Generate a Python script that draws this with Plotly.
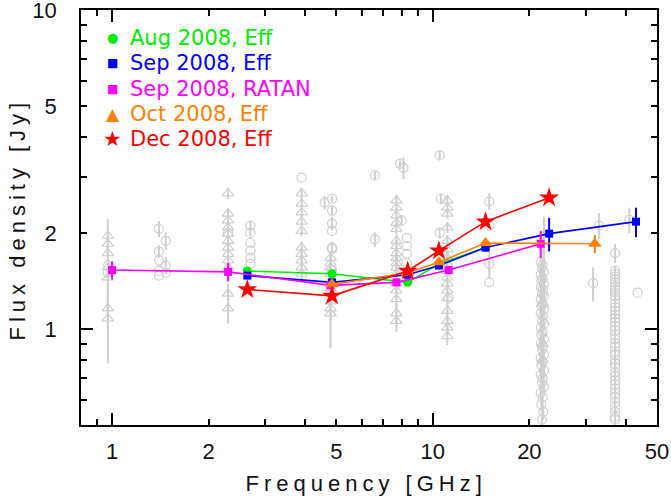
import plotly.graph_objects as go
import math

# ---------------- data ----------------
# Background (archival) measurements, open circles
circ_freq = [0.97, 0.97,
             1.4, 1.4, 1.4, 1.4, 1.4, 1.47, 1.47, 1.47,
             2.3,
             2.7, 2.7, 2.7, 2.7, 2.7, 2.7,
             3.9, 4.6,
             4.85, 4.85, 4.85, 4.85, 4.85, 4.85, 4.85,
             6.6, 6.6,
             7.9, 8.1, 8.0, 8.3, 8.3, 8.3, 8.3,
             10.5, 10.6, 10.5, 11.2,
             15.0, 15.0, 15.0, 15.0,
             31.6, 33.0, 41.0, 43.5]
circ_flux = [1.58, 1.50,
             2.06, 1.75, 1.64, 1.52, 1.47, 1.89, 1.58, 1.50,
             2.00,
             2.11, 2.00, 1.86, 1.76, 1.67, 1.60,
             2.98, 2.49,
             2.56, 2.35, 2.14, 2.03, 1.78, 1.80, 1.53,
             3.03, 1.91,
             3.30, 3.20, 2.19, 1.93, 1.82, 1.72, 1.61,
             3.50, 2.56, 2.00, 1.25,
             2.51, 2.11, 1.60, 1.40,
             1.39, 2.11, 2.20, 1.30]
circ_err = [0.05, 0.05,
            0.12, 0.08, 0.0, 0.0, 0.0, 0.12, 0.10, 0.0,
            0.0,
            0.06, 0.05, 0.0, 0.0, 0.0, 0.0,
            0.0, 0.12,
            0.06, 0.08, 0.10, 0.0, 0.0, 0.08, 0.0,
            0.08, 0.10,
            0.08, 0.25, 0.06, 0.0, 0.0, 0.0, 0.0,
            0.12, 0.10, 0.08, 0.0,
            0.15, 0.0, 0.15, 0.0,
            0.17, 0.20, 0.20, 0.0]

# dense monitoring columns at 22 and 37 GHz (open circles)
k22_flux = [1.80, 1.62, 1.59, 1.55, 1.51, 1.48, 1.44, 1.42, 1.38, 1.35, 1.33,
            1.29, 1.27, 1.24, 1.20, 1.18, 1.15, 1.12, 1.10, 1.06, 1.04, 1.01,
            0.98, 0.96, 0.93, 0.90, 0.88, 0.86, 0.83, 0.81, 0.79, 0.77, 0.74,
            0.72, 0.70, 0.68, 0.66, 0.63, 0.61, 0.58, 0.55, 0.52]
k22_freq = [22.2, 21.7, 22.0, 21.9, 22.2, 21.7, 22.0, 21.8, 22.2, 21.7, 22.0,
            21.9, 22.2, 21.7, 22.0, 21.8, 22.2, 21.7, 22.0, 21.9, 22.2, 21.7,
            22.0, 21.8, 22.2, 21.7, 22.0, 21.9, 22.2, 21.7, 22.0, 21.8, 22.2,
            21.7, 22.0, 21.9, 22.2, 21.7, 22.0, 21.8, 22.1, 21.9]
k22_err = [0.45, 0.10, 0.08, 0.08, 0.07, 0.07, 0.07, 0.06, 0.06, 0.06, 0.06,
           0.06, 0.05, 0.05, 0.05, 0.05, 0.05, 0.05, 0.05, 0.05, 0.04, 0.04,
           0.04, 0.04, 0.04, 0.04, 0.04, 0.04, 0.04, 0.04, 0.04, 0.04, 0.04,
           0.04, 0.04, 0.03, 0.03, 0.03, 0.03, 0.03, 0.03, 0.03]

q37_flux = [1.73, 1.52, 1.49, 1.46, 1.43, 1.40, 1.36, 1.33, 1.30, 1.27, 1.24,
            1.20, 1.17, 1.14, 1.11, 1.08, 1.05, 1.02, 0.99, 0.96, 0.93, 0.90,
            0.88, 0.85, 0.83, 0.80, 0.78, 0.76, 0.73, 0.71, 0.69, 0.67, 0.65,
            0.63, 0.61, 0.59, 0.57, 0.55, 0.53, 0.52]
q37_freq = [37.0] * len(q37_flux)
q37_err = [0.12, 0.05, 0.04, 0.04, 0.04, 0.04, 0.04, 0.04, 0.04, 0.04, 0.04,
           0.04, 0.03, 0.03, 0.03, 0.03, 0.03, 0.03, 0.03, 0.03, 0.03, 0.03,
           0.03, 0.03, 0.03, 0.03, 0.02, 0.02, 0.02, 0.02, 0.02, 0.02, 0.02,
           0.02, 0.02, 0.02, 0.02, 0.02, 0.02, 0.02]

# Background measurements, open triangles
tri_freq = [0.97] * 7 + [2.3] * 12 + [3.9] * 10 + [4.8] * 9 + [7.7] * 17 + [11.1] * 17 + [22.0] * 3
tri_flux = [1.96, 1.85, 1.73, 1.56, 1.45, 1.16, 1.08,
            2.66, 2.30, 2.19, 2.08, 1.99, 1.89, 1.80, 1.72, 1.64, 1.56, 1.29, 1.16,
            2.66, 2.47, 2.32, 2.17, 2.03, 1.80, 1.72, 1.64, 1.56, 1.49,
            1.67, 1.61, 1.56, 1.49, 1.42, 1.34, 1.22, 1.16, 1.12,
            2.53, 2.40, 2.27, 2.15, 2.06, 1.89, 1.82, 1.73, 1.67, 1.61, 1.56, 1.49,
            1.39, 1.32, 1.24, 1.12, 1.06,
            2.53, 2.40, 2.30, 2.08, 1.89, 1.78, 1.67, 1.60, 1.52, 1.45, 1.39, 1.32,
            1.25, 1.14, 1.06, 1.01, 0.95,
            1.20, 0.90, 0.80]
tri_err = [0.25, 0.10, 0.10, 0.35, 0.10, 0.15, 0.30,
           0.10, 0.08, 0.08, 0.08, 0.08, 0.08, 0.08, 0.08, 0.08, 0.08, 0.10, 0.12,
           0.10, 0.10, 0.08, 0.08, 0.08, 0.08, 0.08, 0.08, 0.08, 0.08,
           0.08, 0.08, 0.08, 0.08, 0.08, 0.08, 0.08, 0.10, 0.25,
           0.10, 0.10, 0.08, 0.08, 0.08, 0.08, 0.08, 0.08, 0.08, 0.08, 0.08, 0.08,
           0.08, 0.08, 0.08, 0.08, 0.08,
           0.10, 0.10, 0.08, 0.08, 0.08, 0.08, 0.08, 0.08, 0.08, 0.08, 0.08, 0.08,
           0.08, 0.08, 0.08, 0.06, 0.06,
           0.05, 0.04, 0.04]

# 2008 campaign spectra
aug_freq = [2.64, 4.85, 8.35, 10.45, 14.6]
aug_flux = [1.52, 1.49, 1.40, 1.60, 1.80]

sepE_freq = [2.64, 4.85, 8.35, 10.45, 14.6, 23.05, 43.0]
sepE_flux = [1.47, 1.40, 1.48, 1.58, 1.80, 1.99, 2.17]
sepE_err = [0.02, 0.02, 0.02, 0.02, 0.03, 0.24, 0.23]

sepR_freq = [1.0, 2.3, 4.8, 7.7, 11.2, 21.7]
sepR_flux = [1.53, 1.51, 1.37, 1.40, 1.53, 1.85]
sepR_err = [0.10, 0.10, 0.02, 0.02, 0.02, 0.18]

oct_freq = [4.85, 8.35, 10.45, 14.6, 32.0]
oct_flux = [1.38, 1.50, 1.62, 1.86, 1.85]
oct_err = [0.02, 0.02, 0.02, 0.03, 0.12]

dec_freq = [2.64, 4.85, 8.35, 10.45, 14.6, 23.05]
dec_flux = [1.33, 1.27, 1.52, 1.76, 2.17, 2.58]

x_ticks = [1, 2, 5, 10, 20, 50]
y_ticks = [1, 2, 5, 10]

# ---------------- figure ----------------
GRAY = "#cfcfcf"
GREEN = "#00ee00"
BLUE = "#0000ff"
MAGENTA = "#ff00ff"
ORANGE = "#ff8000"
RED = "#ff0000"
FONT = "Liberation Sans"
LFONT = "DejaVu Sans"

fig = go.Figure()


def gray_err(e):
    return dict(type="data", array=e, visible=True, color=GRAY, thickness=2, width=0)


circ_marker = dict(symbol="circle-open", size=9, color=GRAY, line=dict(width=1.2))
fig.add_trace(go.Scatter(x=circ_freq, y=circ_flux, mode="markers", showlegend=False,
                         marker=circ_marker, error_y=gray_err(circ_err)))
fig.add_trace(go.Scatter(x=k22_freq, y=k22_flux, mode="markers", showlegend=False,
                         marker=circ_marker, error_y=gray_err(k22_err)))
fig.add_trace(go.Scatter(x=q37_freq, y=q37_flux, mode="markers", showlegend=False,
                         marker=circ_marker, error_y=gray_err(q37_err)))
fig.add_trace(go.Scatter(x=tri_freq, y=tri_flux, mode="markers", showlegend=False,
                         marker=dict(symbol="triangle-up-open", size=10, color=GRAY,
                                     line=dict(width=1.2)),
                         error_y=gray_err(tri_err)))

series = [
    ("Aug 2008, Eff", aug_freq, aug_flux, None, GREEN, "circle", 9, "\u25cf", 13),
    ("Sep 2008, Eff", sepE_freq, sepE_flux, sepE_err, BLUE, "square", 8, "\u25a0", 12),
    ("Sep 2008, RATAN", sepR_freq, sepR_flux, sepR_err, MAGENTA, "square", 8, "\u25a0", 12),
    ("Oct 2008, Eff", oct_freq, oct_flux, oct_err, ORANGE, "triangle-up", 12, "\u25b2", 17),
    ("Dec 2008, Eff", dec_freq, dec_flux, None, RED, "star", 15, "\u2605", 21),
]
for name, fx, fy, fe, col, sym, sz, glyph, gsz in series:
    kw = {}
    if fe is not None:
        kw["error_y"] = dict(type="data", array=fe, visible=True, color=col,
                             thickness=2, width=0)
    fig.add_trace(go.Scatter(x=fx, y=fy, mode="lines+markers", showlegend=False,
                             name=name, line=dict(color=col, width=1.6),
                             marker=dict(symbol=sym, size=sz, color=col,
                                         line=dict(width=0)), **kw))

# dummy trace for overlay axes (long decade ticks)
fig.add_trace(go.Scatter(x=[None], y=[None], xaxis="x2", yaxis="y2",
                         showlegend=False, hoverinfo="skip"))

# legend drawn as text annotations (symbol glyph + coloured label)
W, H, L, T = 671, 500, 81, 10
PW, PH = W - L - 14, H - T - 75
annotations = []
row_y = [38, 63, 89, 114, 139]
for (name, fx, fy, fe, col, sym, sz, glyph, gsz), ry in zip(series, row_y):
    yp = 1 - (ry - T) / PH
    annotations.append(dict(text=glyph, xref="paper", yref="paper",
                            x=(112.5 - L) / PW, y=yp, xanchor="center", yanchor="middle",
                            showarrow=False, font=dict(family=LFONT, size=gsz, color=col)))
    annotations.append(dict(text=name, xref="paper", yref="paper",
                            x=(128 - L) / PW, y=yp, xanchor="left", yanchor="middle",
                            showarrow=False, font=dict(family=LFONT, size=21, color=col)))

annotations.append(dict(text="Frequency [GHz]", xref="paper", yref="paper",
                        x=(366 - L) / PW, y=-(483 - 425) / PH,
                        xanchor="center", yanchor="middle", showarrow=False,
                        font=dict(family=FONT, size=22, color="#111111")))
annotations.append(dict(text="Flux density [Jy]", xref="paper", yref="paper",
                        x=(17 - L) / PW, y=(425 - 219) / PH,
                        xanchor="center", yanchor="middle", showarrow=False, textangle=-90,
                        font=dict(family=FONT, size=22, color="#111111")))

xr = [math.log10(0.8), math.log10(50)]
yr = [math.log10(0.5), 1.0]
x_minor = [0.8, 0.9, 3, 4, 6, 7, 8, 9, 30, 40]
y_minor = [0.5, 0.6, 0.7, 0.8, 0.9, 3, 4, 6, 7, 8, 9]

common = dict(showline=True, linecolor="black", linewidth=1.5, mirror="allticks",
              ticks="inside", tickcolor="black", tickwidth=1.5, ticklen=6,
              showgrid=False, zeroline=False, automargin=False,
              ticklabeloverflow="allow",
              tickfont=dict(family=FONT, size=22, color="#111111"))
overlay = dict(ticks="inside", ticklen=12, tickwidth=1.5, tickcolor="black",
               mirror="ticks", showline=False, showgrid=False, zeroline=False,
               showticklabels=False, automargin=False)

fig.update_layout(
    width=W, height=H,
    margin=dict(l=L, r=14, t=T, b=75),
    paper_bgcolor="white", plot_bgcolor="white",
    showlegend=False,
    xaxis=dict(type="log", range=xr, tickvals=x_ticks, ticktext=[str(v) for v in x_ticks],
               minor=dict(tickvals=x_minor, ticks="inside", ticklen=6, tickcolor="black",
                          tickwidth=1.5, showgrid=False),
               ticklabelstandoff=6, **common),
    yaxis=dict(type="log", range=yr, tickvals=y_ticks, ticktext=[str(v) for v in y_ticks],
               minor=dict(tickvals=y_minor, ticks="inside", ticklen=6, tickcolor="black",
                          tickwidth=1.5, showgrid=False),
               ticklabelstandoff=18, **common),
    xaxis2=dict(type="log", range=xr, overlaying="x", anchor="y2", side="bottom",
                tickvals=[1, 10], **overlay),
    yaxis2=dict(type="log", range=yr, overlaying="y", anchor="x2", side="left",
                tickvals=[1, 10], **overlay),
    annotations=annotations,
)

# page without body margin; wider tracking of the axis titles as in the original
post = """
document.body.style.margin = '0px';
document.querySelectorAll('text.annotation-text').forEach(function(t){
  var s = t.textContent;
  if (s === 'Frequency [GHz]' || s === 'Flux density [Jy]') {
    t.style.letterSpacing = '5px';
  }
});
"""
fig.write_html("out.html", post_script=post, config={"displayModeBar": False})
